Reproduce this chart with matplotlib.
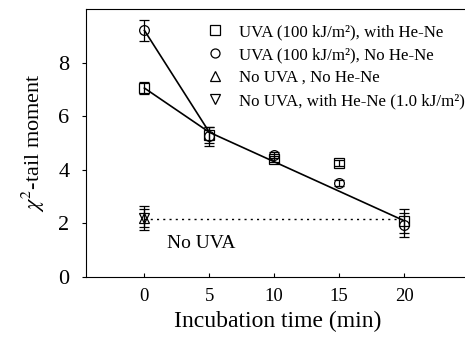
import matplotlib
matplotlib.use("Agg")
import matplotlib.pyplot as plt
from matplotlib.lines import Line2D

plt.rcParams.update({
    "font.family": "serif",
    "font.serif": ["Liberation Serif"],
    "mathtext.fontset": "stix",
})

# data
time = [0, 5, 10, 15, 20]
uva_hene = [7.05, 5.3, 4.4, 4.25, 2.1]
uva_hene_err = [0.22, 0.3, 0.1, 0.12, 0.45]
uva_nohene = [9.2, 5.25, 4.55, 3.5, 1.95]
uva_nohene_err = [0.38, 0.35, 0.12, 0.12, 0.45]
nouva_time = [0]
nouva_nohene = [2.2]
nouva_nohene_err = [0.45]
nouva_hene = [2.2]
nouva_hene_err = [0.35]

# fitted lines
fit_x_circ = [0, 5]
fit_y_circ = [9.2, 5.4]
fit_x_sq = [0, 5]
fit_y_sq = [7.05, 5.4]
fit_x_tail = [5, 20]
fit_y_tail = [5.4, 2.1]
ctrl_x = [0, 20]
ctrl_y = [2.15, 2.15]

labels = [
    "UVA (100 kJ/m²), with He-Ne",
    "UVA (100 kJ/m²), No He-Ne",
    "No UVA , No He-Ne",
    "No UVA, with He-Ne (1.0 kJ/m²)",
]

fig = plt.figure(figsize=(4.65, 3.44), dpi=100)
ax = fig.add_axes([86 / 465, 1 - 277 / 344, 383 / 465, 268 / 344])

ax.plot(fit_x_circ, fit_y_circ, "k-", lw=1.2)
ax.plot(fit_x_sq, fit_y_sq, "k-", lw=1.2)
ax.plot(fit_x_tail, fit_y_tail, "k-", lw=1.2)
ax.plot(ctrl_x, ctrl_y, color="k", ls=(0, (1.5, 3)), lw=1.0)

kw = dict(fmt="none", ecolor="k", elinewidth=0.9, capsize=3.5, capthick=0.9)
mk = dict(ls="none", mfc="none", mec="k", mew=0.9, ms=7)
ax.errorbar(time, uva_hene, yerr=uva_hene_err, **kw)
ax.errorbar(time, uva_nohene, yerr=uva_nohene_err, **kw)
ax.errorbar(nouva_time, nouva_nohene, yerr=nouva_nohene_err, **kw)
ax.errorbar(nouva_time, nouva_hene, yerr=nouva_hene_err, **kw)
ax.plot(time, uva_hene, marker="s", **mk)
ax.plot(time, uva_nohene, marker="o", **mk)
ax.plot(nouva_time, nouva_nohene, marker="^", **mk)
ax.plot(nouva_time, nouva_hene, marker="v", **mk)

ax.text(4.4, 1.25, "No UVA", fontsize=14, ha="center", va="center")

handles = [Line2D([], [], marker=m, **dict(mk, ms=6.5)) for m in ["s", "o", "^", "v"]]
ax.legend(handles, labels, loc="upper left", bbox_to_anchor=(0.278, 0.995),
          frameon=False, fontsize=12.2, handlelength=1.0, handletextpad=0.95,
          labelspacing=0.42, borderpad=0.3)

ax.set_xlim(-4.5, 25)
ax.set_ylim(0, 10)
ax.set_xticks(time)
ax.set_yticks([0, 2, 4, 6, 8])
ax.tick_params(axis="x", direction="in", labelsize=13.5, length=3, pad=8)
ax.tick_params(axis="y", direction="out", labelsize=16, length=3, pad=9)
ax.spines["right"].set_visible(False)
ax.set_xlabel("Incubation time (min)", fontsize=17, labelpad=4)
ax.set_ylabel("$\\chi^2$-tail moment", fontsize=16, labelpad=8)

fig.savefig("out.png", dpi=100)
